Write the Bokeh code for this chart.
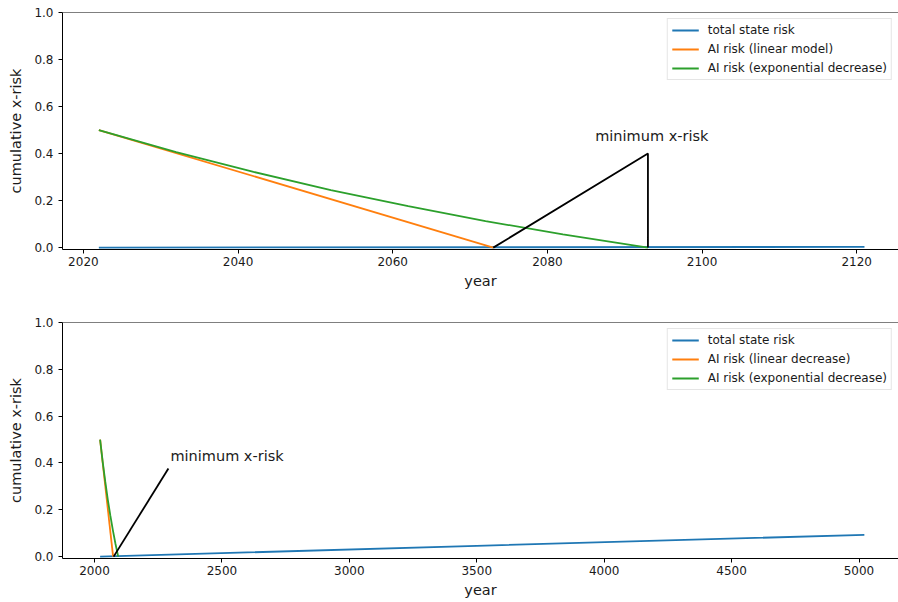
from bokeh.plotting import figure
from bokeh.layouts import column
from bokeh.models import Range1d, FixedTicker, Span, NumeralTickFormatter
from bokeh.core.properties import value
from bokeh.embed import file_html
from bokeh.resources import INLINE

# ---------------- data ----------------
# Top panel
top_state_years = [2022, 2121]
top_state_risk = [0.0, 0.0031]
top_linear_years = [2022, 2073]
top_linear_risk = [0.5, 0.0]
top_exp_years = [2022, 2032, 2042, 2052, 2062, 2072, 2082, 2093]
top_exp_risk = [0.5, 0.406, 0.322, 0.245, 0.176, 0.113, 0.056, 0.0]
top_labels = ["total state risk", "AI risk (linear model)", "AI risk (exponential decrease)"]
top_xticks = [2020, 2040, 2060, 2080, 2100, 2120]

# Bottom panel
bot_state_years = [2022, 3500, 5021]
bot_state_risk = [0.0, 0.046, 0.093]
bot_linear_years = [2022, 2073]
bot_linear_risk = [0.5, 0.0]
bot_exp_years = [2022, 2032, 2042, 2052, 2062, 2072, 2082, 2093]
bot_exp_risk = [0.5, 0.406, 0.322, 0.245, 0.176, 0.113, 0.056, 0.0]
bot_labels = ["total state risk", "AI risk (linear decrease)", "AI risk (exponential decrease)"]
bot_xticks = [2000, 2500, 3000, 3500, 4000, 4500, 5000]

yticks = [0.0, 0.2, 0.4, 0.6, 0.8, 1.0]
annot_text = "minimum x-risk"
# annotation: pointer path (x, y) and text anchor
top_annot_path_x = [2073, 2093, 2093]
top_annot_path_y = [0.0, 0.40, 0.0]
top_annot_text_xy = (2093.5, 0.474)
bot_annot_path_x = [2075, 2290]
bot_annot_path_y = [0.0, 0.376]
bot_annot_text_xy = (2298, 0.43)

BLUE, ORANGE, GREEN = "#1f77b4", "#ff7f0e", "#2ca02c"
FONT = "DejaVu Sans"
TXT = "#1a1a1a"


def make_fig(height, xr, xticks, mtop, mbottom):
    p = figure(width=898, height=height, x_range=Range1d(*xr),
               y_range=Range1d(-0.008, 1.0), output_backend="svg",
               toolbar_location=None, min_border_left=62, min_border_right=0,
               min_border_top=mtop, min_border_bottom=mbottom)
    p.xgrid.visible = False
    p.ygrid.visible = False
    p.outline_line_color = None
    p.background_fill_color = "white"
    p.border_fill_color = "white"
    p.add_layout(Span(location=1.0, dimension="width", line_color="black", line_width=1.2))
    for ax in (p.xaxis[0], p.yaxis[0]):
        ax.axis_line_color = "black"
        ax.major_tick_line_color = "black"
        ax.major_tick_in = 0
        ax.major_tick_out = 4
        ax.minor_tick_line_color = None
        ax.major_label_text_font = FONT
        ax.major_label_text_font_size = "12px"
        ax.major_label_text_color = TXT
        ax.axis_label_text_font = FONT
        ax.axis_label_text_font_size = "14.5px"
        ax.axis_label_text_font_style = "normal"
        ax.axis_label_text_color = TXT
    p.xaxis.ticker = FixedTicker(ticks=xticks)
    p.yaxis.ticker = FixedTicker(ticks=yticks)
    p.yaxis.formatter = NumeralTickFormatter(format="0.0")
    p.xaxis.major_label_standoff = 3
    p.yaxis.major_label_standoff = 5
    p.xaxis.axis_label_standoff = 4
    p.yaxis.axis_label_standoff = 7
    p.xaxis.axis_label = "year"
    p.yaxis.axis_label = "cumulative x-risk"
    return p


def populate(p, sx, sy, lx, ly, ex, ey, labels, path_x, path_y, txy, align):
    p.line(sx, sy, line_color=BLUE, line_width=1.8, legend_label=labels[0])
    p.line(lx, ly, line_color=ORANGE, line_width=1.8, legend_label=labels[1])
    p.line(ex, ey, line_color=GREEN, line_width=1.8, legend_label=labels[2])
    p.line(path_x, path_y, line_color="black", line_width=1.8)
    p.text(x=[txy[0]], y=[txy[1]], text=[annot_text], text_align=align,
           text_baseline="alphabetic", text_font=value(FONT),
           text_font_size="14.5px", text_color=TXT)
    lg = p.legend[0]
    lg.location = "top_right"
    lg.margin = 6
    lg.padding = 4
    lg.spacing = 5
    lg.label_height = 14
    lg.glyph_height = 14
    lg.glyph_width = 27
    lg.label_standoff = 9
    lg.label_text_font = FONT
    lg.label_text_font_size = "12px"
    lg.label_text_color = TXT
    lg.border_line_color = "#cccccc"
    lg.border_line_width = 1
    lg.background_fill_alpha = 0.8


top = make_fig(310, (2017.3, 2125.4), top_xticks, 12, 61)
populate(top, top_state_years, top_state_risk, top_linear_years, top_linear_risk,
         top_exp_years, top_exp_risk, top_labels, top_annot_path_x, top_annot_path_y,
         top_annot_text_xy, "center")

bot = make_fig(292, (1874.4, 5155.0), bot_xticks, 12, 44)
populate(bot, bot_state_years, bot_state_risk, bot_linear_years, bot_linear_risk,
         bot_exp_years, bot_exp_risk, bot_labels, bot_annot_path_x, bot_annot_path_y,
         bot_annot_text_xy, "left")

layout = column(top, bot, spacing=0)
open("out.html", "w").write(file_html(layout, INLINE))
